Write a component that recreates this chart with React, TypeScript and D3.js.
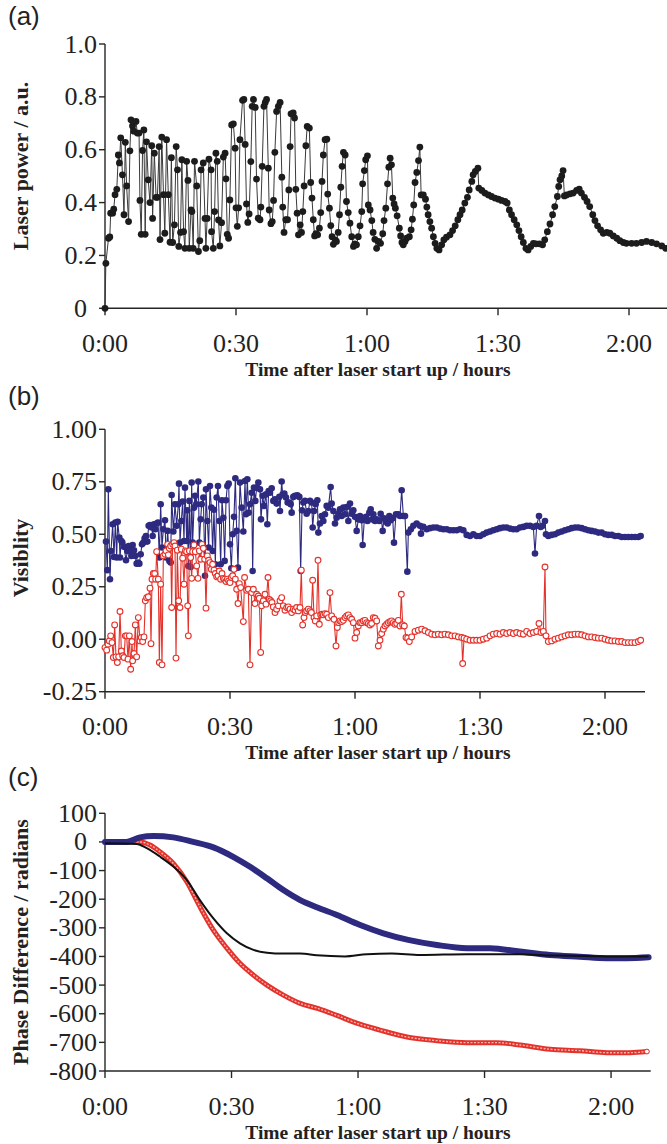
import React from "react";
import * as d3 from "d3";

type Pt = [number, number];

const SERIF = '"Liberation Serif", "Times New Roman", Times, serif';
const SANS = '"Liberation Sans", Arial, Helvetica, sans-serif';

// ---------- ticks ----------
const timeTicks = [0, 30, 60, 90, 120];
const timeTickLabels = ["0:00", "0:30", "1:00", "1:30", "2:00"];
const powerTicks = [0, 0.2, 0.4, 0.6, 0.8, 1.0];
const powerTickLabels = ["0", "0.2", "0.4", "0.6", "0.8", "1.0"];
const visTicks = [-0.25, 0, 0.25, 0.5, 0.75, 1.0];
const visTickLabels = ["-0.25", "0.00", "0.25", "0.50", "0.75", "1.00"];
const phaseTicks = [100, 0, -100, -200, -300, -400, -500, -600, -700, -800];
const phaseTickLabels = ["100", "0", "-100", "-200", "-300", "-400", "-500", "-600", "-700", "-800"];

// ---------- (a) laser power: [minutes, a.u.] ----------
const laserPower: Pt[] = [
  [0, 0], [0.2, 0.17], [0.8, 0.265], [1.1, 0.27], [1.3, 0.36], [1.75, 0.36], [2.0, 0.375], [2.3, 0.43], [2.7, 0.45],
  [3.05, 0.58], [3.3, 0.55], [3.6, 0.645], [4.0, 0.505], [4.35, 0.354], [4.65, 0.628], [4.95, 0.463], [5.4, 0.328],
  [5.7, 0.596], [5.95, 0.713], [6.3, 0.69], [6.6, 0.67], [7.1, 0.707], [7.4, 0.663], [7.8, 0.663], [8.0, 0.408],
  [8.3, 0.28], [8.6, 0.597], [8.9, 0.675], [9.2, 0.28], [9.5, 0.63], [9.9, 0.486], [10.3, 0.4], [10.7, 0.615],
  [10.9, 0.34], [11.3, 0.587], [11.7, 0.42], [12.0, 0.42], [12.4, 0.612], [12.6, 0.26], [13.0, 0.648], [13.4, 0.43],
  [13.7, 0.284], [14.1, 0.638], [14.5, 0.43], [14.9, 0.25], [15.2, 0.57], [15.5, 0.249], [15.9, 0.316], [16.3, 0.612],
  [16.6, 0.524], [16.9, 0.234], [17.3, 0.287], [17.6, 0.562], [18.0, 0.29], [18.3, 0.227], [18.7, 0.556], [19.0, 0.484],
  [19.3, 0.227], [19.7, 0.372], [19.9, 0.366], [20.2, 0.227], [20.5, 0.556], [21.0, 0.463], [21.4, 0.215], [21.7, 0.256],
  [22.0, 0.524], [22.5, 0.55], [22.9, 0.34], [23.1, 0.227], [23.4, 0.34], [23.8, 0.564], [24.3, 0.524], [24.4, 0.29],
  [24.8, 0.227], [25.1, 0.366], [25.4, 0.587], [25.7, 0.556], [26.0, 0.334], [26.3, 0.236], [26.7, 0.324], [27.1, 0.572],
  [27.5, 0.587], [27.7, 0.49], [28.0, 0.28], [28.3, 0.265], [28.6, 0.41], [29.0, 0.694], [29.4, 0.698], [29.8, 0.606],
  [30.0, 0.38], [30.3, 0.31], [30.6, 0.38], [30.9, 0.638], [31.5, 0.787], [31.8, 0.79], [32.1, 0.62], [32.4, 0.395],
  [32.7, 0.325], [33.0, 0.357], [33.4, 0.555], [33.7, 0.764], [34.0, 0.79], [34.4, 0.76], [34.7, 0.489], [35.1, 0.341],
  [35.5, 0.335], [35.7, 0.383], [36.0, 0.537], [36.4, 0.764], [36.7, 0.779], [37.0, 0.79], [37.4, 0.53], [37.6, 0.372],
  [38.0, 0.32], [38.3, 0.328], [38.6, 0.408], [38.9, 0.59], [39.3, 0.745], [39.7, 0.764], [40.1, 0.779], [40.5, 0.496],
  [40.7, 0.383], [41.0, 0.287], [41.4, 0.335], [41.8, 0.335], [42.1, 0.448], [42.4, 0.612], [42.6, 0.736], [43.1, 0.739],
  [43.4, 0.72], [43.7, 0.45], [44.0, 0.36], [44.3, 0.278], [44.7, 0.316], [45.0, 0.287], [45.3, 0.366], [45.6, 0.463],
  [46.0, 0.615], [46.3, 0.688], [46.8, 0.682], [47.1, 0.476], [47.4, 0.417], [47.7, 0.335], [48.0, 0.274], [48.3, 0.282],
  [48.7, 0.278], [49.1, 0.303], [49.4, 0.362], [49.7, 0.48], [50.0, 0.58], [50.4, 0.638], [50.8, 0.64], [51.0, 0.432],
  [51.4, 0.379], [51.7, 0.313], [52.0, 0.271], [52.3, 0.242], [52.7, 0.259], [53.0, 0.253], [53.4, 0.287], [53.7, 0.354],
  [54.0, 0.458], [54.3, 0.537], [54.6, 0.59], [55.0, 0.58], [55.3, 0.404], [55.7, 0.362], [56.1, 0.322], [56.5, 0.271],
  [56.9, 0.234], [57.2, 0.244], [57.6, 0.24], [58.0, 0.271], [58.4, 0.312], [58.8, 0.366], [59.0, 0.471], [59.4, 0.521],
  [59.7, 0.562], [60.1, 0.577], [60.3, 0.391], [60.7, 0.372], [61.1, 0.332], [61.4, 0.287], [61.8, 0.261], [62.2, 0.227],
  [62.6, 0.253], [63.1, 0.246], [63.6, 0.282], [63.9, 0.332], [64.3, 0.379], [64.7, 0.471], [65.0, 0.534], [65.3, 0.568],
  [65.6, 0.543], [65.9, 0.417], [66.2, 0.395], [66.5, 0.379], [66.9, 0.35], [67.4, 0.303], [67.7, 0.274], [68.0, 0.249],
  [68.3, 0.24], [68.7, 0.253], [69.1, 0.265], [69.7, 0.271], [70.1, 0.297], [70.4, 0.337], [70.7, 0.391], [71.0, 0.476],
  [71.4, 0.514], [71.8, 0.559], [72.1, 0.61], [72.4, 0.429], [72.9, 0.429], [73.4, 0.413], [73.7, 0.383], [74.0, 0.354],
  [74.4, 0.328], [74.8, 0.303], [75.2, 0.271], [75.6, 0.246], [76.0, 0.227], [76.5, 0.221], [77.1, 0.24], [77.6, 0.259],
  [78.2, 0.269], [79.0, 0.278], [79.6, 0.294], [80.2, 0.312], [80.8, 0.335], [81.3, 0.354], [81.8, 0.372], [82.4, 0.398],
  [83.0, 0.42], [83.4, 0.448], [84.0, 0.48], [84.3, 0.505], [84.8, 0.518], [85.4, 0.53], [85.6, 0.455], [86.3, 0.446],
  [87.0, 0.436], [87.8, 0.429], [88.5, 0.423], [89.3, 0.417], [90.1, 0.413], [90.8, 0.408], [91.6, 0.404], [92.1, 0.398],
  [92.6, 0.372], [93.1, 0.354], [93.7, 0.335], [94.3, 0.316], [94.8, 0.294], [95.3, 0.271], [95.8, 0.249], [96.4, 0.227],
  [96.9, 0.221], [97.5, 0.234], [98.1, 0.246], [98.7, 0.244], [99.5, 0.244], [100.2, 0.24], [100.7, 0.259], [101.3, 0.29],
  [101.9, 0.319], [102.5, 0.354], [103.0, 0.385], [103.6, 0.423], [103.9, 0.461], [104.2, 0.486], [104.6, 0.501],
  [104.9, 0.521], [105.2, 0.425], [105.7, 0.429], [106.5, 0.433], [107.2, 0.436], [108.0, 0.446], [108.6, 0.451],
  [109.1, 0.436], [109.8, 0.42], [110.4, 0.404], [111.0, 0.385], [111.7, 0.354], [112.2, 0.332], [112.8, 0.312],
  [113.5, 0.297], [114.1, 0.284], [114.9, 0.287], [115.6, 0.284], [116.4, 0.274], [117.2, 0.265], [117.9, 0.256],
  [118.7, 0.249], [119.4, 0.246], [120.6, 0.246], [121.7, 0.246], [122.9, 0.249], [124.0, 0.253], [125.2, 0.249],
  [126.3, 0.244], [127.5, 0.236], [128.4, 0.227],
];

// ---------- (b) visibility ----------
const visibilityBlue: Pt[] = [
  [0.24, 0.465], [0.56, 0.329], [0.8, 0.714], [1.2, 0.286], [1.44, 0.42], [1.84, 0.548], [2.16, 0.392], [2.48, 0.556],
  [2.8, 0.389], [3.04, 0.559], [3.44, 0.484], [3.6, 0.389], [3.92, 0.468], [4.16, 0.46], [4.56, 0.44], [5.04, 0.376],
  [5.36, 0.42], [5.68, 0.444], [6.0, 0.424], [6.32, 0.397], [6.64, 0.449], [6.96, 0.424], [7.28, 0.397], [7.6, 0.36],
  [7.92, 0.365], [8.24, 0.36], [8.56, 0.405], [8.88, 0.452], [9.2, 0.46], [9.52, 0.481], [9.84, 0.492], [10.16, 0.465],
  [10.48, 0.54], [10.8, 0.544], [11.2, 0.532], [11.44, 0.492], [11.76, 0.548], [12.08, 0.524], [12.4, 0.551],
  [12.72, 0.556], [13.04, 0.389], [13.36, 0.643], [13.68, 0.437], [14.0, 0.524], [14.4, 0.567], [14.64, 0.389],
  [15.04, 0.516], [15.44, 0.373], [15.76, 0.365], [16.0, 0.687], [16.4, 0.513], [16.8, 0.643], [17.2, 0.54],
  [17.6, 0.643], [17.76, 0.741], [18.0, 0.46], [18.32, 0.563], [18.64, 0.656], [18.96, 0.468], [19.2, 0.722],
  [19.6, 0.468], [19.76, 0.614], [20.0, 0.349], [20.24, 0.659], [20.56, 0.344], [20.8, 0.746], [21.04, 0.46],
  [21.36, 0.627], [21.6, 0.683], [21.9, 0.643], [22.4, 0.751], [22.64, 0.46], [22.96, 0.571], [23.2, 0.643],
  [23.6, 0.675], [24.0, 0.302], [24.24, 0.714], [24.56, 0.563], [24.88, 0.437], [25.2, 0.73], [25.52, 0.627],
  [25.84, 0.42], [26.16, 0.617], [26.48, 0.357], [26.8, 0.675], [27.12, 0.73], [27.44, 0.563], [27.76, 0.357],
  [28.08, 0.662], [28.4, 0.579], [28.72, 0.373], [29.04, 0.662], [29.36, 0.73], [29.68, 0.741], [30.0, 0.452],
  [30.32, 0.338], [30.64, 0.5], [30.96, 0.583], [31.28, 0.767], [31.6, 0.516], [31.92, 0.341], [32.4, 0.746],
  [32.8, 0.627], [33.2, 0.513], [33.6, 0.754], [33.84, 0.595], [34.16, 0.762], [34.48, 0.603], [34.8, 0.643],
  [35.2, 0.698], [35.44, 0.325], [35.76, 0.722], [36.08, 0.659], [36.4, 0.722], [36.8, 0.746], [37.2, 0.714],
  [37.44, 0.571], [37.84, 0.683], [38.16, 0.635], [38.64, 0.69], [38.96, 0.548], [39.28, 0.706], [39.6, 0.698],
  [40.0, 0.719], [40.4, 0.659], [40.8, 0.667], [41.2, 0.646], [41.84, 0.678], [42.0, 0.611], [42.4, 0.751],
  [42.64, 0.69], [43.04, 0.694], [43.44, 0.675], [43.84, 0.651], [44.24, 0.651], [44.56, 0.643], [44.8, 0.603],
  [45.2, 0.678], [45.6, 0.683], [46.16, 0.686], [46.64, 0.678], [46.96, 0.325], [47.28, 0.614], [47.6, 0.651],
  [48.0, 0.659], [48.4, 0.598], [48.8, 0.611], [49.2, 0.659], [49.6, 0.651], [49.84, 0.532], [50.16, 0.611],
  [50.56, 0.643], [50.96, 0.662], [51.2, 0.508], [51.6, 0.551], [52.0, 0.587], [52.4, 0.563], [52.8, 0.595],
  [53.2, 0.635], [53.6, 0.627], [54.16, 0.725], [54.4, 0.646], [54.8, 0.611], [55.2, 0.551], [55.6, 0.579],
  [56.0, 0.598], [56.4, 0.619], [56.8, 0.587], [57.2, 0.627], [57.6, 0.595], [58.0, 0.63], [58.4, 0.563],
  [58.8, 0.646], [59.2, 0.598], [59.6, 0.614], [60.0, 0.583], [60.4, 0.516], [60.8, 0.571], [61.2, 0.587],
  [61.6, 0.567], [61.84, 0.449], [62.24, 0.571], [62.64, 0.583], [63.0, 0.563], [63.44, 0.603], [63.76, 0.619],
  [64.08, 0.571], [64.4, 0.595], [64.8, 0.563], [65.2, 0.571], [65.84, 0.563], [66.16, 0.598], [66.64, 0.516],
  [66.96, 0.576], [67.44, 0.56], [67.84, 0.551], [68.24, 0.587], [68.56, 0.567], [69.04, 0.576], [69.36, 0.46],
  [69.84, 0.595], [70.4, 0.595], [70.8, 0.587], [71.2, 0.71], [71.6, 0.587], [72.0, 0.587], [72.56, 0.322],
  [72.8, 0.508], [73.4, 0.524], [74.0, 0.54], [74.8, 0.551], [75.6, 0.54], [75.84, 0.503], [76.4, 0.535],
  [77.2, 0.524], [78.0, 0.529], [78.8, 0.532], [79.6, 0.532], [80.4, 0.527], [81.2, 0.524], [82.0, 0.524],
  [82.8, 0.519], [83.6, 0.519], [84.4, 0.519], [85.2, 0.524], [86.0, 0.519], [86.8, 0.497], [87.6, 0.492],
  [88.4, 0.5], [89.2, 0.492], [90.0, 0.492], [90.8, 0.5], [91.6, 0.508], [92.4, 0.513], [93.2, 0.519], [94.0, 0.524],
  [94.8, 0.529], [95.6, 0.532], [96.4, 0.532], [97.2, 0.527], [98.0, 0.524], [98.8, 0.524], [99.6, 0.532],
  [100.4, 0.535], [101.2, 0.54], [102.0, 0.54], [102.8, 0.535], [103.2, 0.408], [103.6, 0.54], [104.16, 0.587],
  [104.56, 0.535], [105.04, 0.54], [105.6, 0.563], [105.84, 0.5], [106.4, 0.492], [107.2, 0.497], [108.0, 0.5],
  [108.8, 0.508], [109.6, 0.513], [110.4, 0.519], [111.2, 0.524], [112.0, 0.529], [112.8, 0.532], [113.6, 0.532],
  [114.4, 0.529], [115.2, 0.524], [116.0, 0.519], [116.8, 0.516], [117.6, 0.513], [118.4, 0.508], [119.2, 0.508],
  [120.0, 0.5], [120.8, 0.497], [121.6, 0.497], [122.4, 0.492], [123.2, 0.492], [124.0, 0.487], [124.8, 0.487],
  [125.6, 0.487], [126.4, 0.487], [127.2, 0.487], [128.0, 0.487], [128.56, 0.492],
];

const visibilityRed: Pt[] = [
  [0.0, -0.04], [0.4, -0.052], [0.72, -0.024], [1.04, -0.008], [1.36, 0.016], [1.68, -0.016], [2.0, -0.087],
  [2.32, 0.068], [2.64, -0.084], [2.96, -0.111], [3.28, -0.084], [3.6, 0.132], [3.92, -0.056], [4.24, -0.079],
  [4.56, -0.087], [4.88, 0.016], [5.2, 0.016], [5.52, -0.095], [5.84, 0.016], [6.16, -0.143], [6.48, -0.011],
  [6.64, -0.103], [6.96, -0.068], [7.28, 0.068], [7.6, -0.084], [8.0, 0.103], [8.4, -0.008], [8.72, 0.008],
  [9.04, -0.011], [9.36, 0.011], [9.68, 0.183], [10.0, 0.198], [10.4, 0.202], [10.8, 0.243], [11.04, -0.021],
  [11.28, 0.286], [11.6, 0.313], [11.92, 0.313], [12.16, 0.286], [12.4, 0.417], [12.8, 0.286], [13.04, -0.111],
  [13.36, 0.262], [13.68, -0.122], [14.0, 0.397], [14.4, 0.405], [14.64, 0.421], [15.04, 0.452], [15.2, 0.402],
  [15.44, 0.433], [15.76, 0.444], [16.0, 0.151], [16.24, 0.452], [16.56, 0.46], [16.8, 0.444], [17.04, -0.09],
  [17.36, 0.424], [17.68, 0.183], [18.0, 0.151], [18.32, 0.429], [18.64, 0.386], [18.96, 0.262], [19.28, 0.421],
  [19.6, 0.417], [19.84, 0.159], [20.0, 0.016], [20.24, 0.421], [20.56, 0.389], [20.8, 0.29], [21.04, 0.417],
  [21.36, 0.449], [21.68, 0.417], [22.0, 0.349], [22.32, 0.29], [22.64, 0.421], [22.96, 0.381], [23.28, 0.452],
  [23.6, 0.433], [23.92, 0.381], [24.24, 0.148], [24.56, 0.397], [24.88, 0.376], [25.2, 0.365], [25.52, 0.333],
  [25.84, 0.357], [26.16, 0.329], [26.48, 0.313], [26.8, 0.297], [27.12, 0.302], [27.44, 0.325], [27.76, 0.286],
  [28.08, 0.313], [28.4, 0.29], [28.72, 0.286], [29.04, 0.275], [29.36, 0.286], [29.68, 0.278], [30.0, 0.27],
  [30.32, 0.294], [30.64, 0.302], [30.96, 0.333], [31.28, 0.286], [31.6, 0.238], [31.92, 0.17], [32.24, 0.265],
  [32.56, 0.246], [33.2, 0.084], [33.5, 0.294], [34.0, 0.233], [34.4, 0.238], [34.8, -0.122], [35.2, 0.222],
  [35.6, 0.238], [36.0, 0.17], [36.4, 0.214], [36.8, 0.206], [37.04, 0.195], [37.36, -0.063], [37.6, 0.159],
  [38.0, 0.183], [38.4, 0.214], [38.64, 0.167], [39.12, 0.294], [39.44, 0.19], [39.76, 0.183], [40.08, 0.175],
  [40.4, 0.154], [40.8, 0.127], [41.2, 0.143], [41.6, 0.159], [42.0, 0.183], [42.4, 0.198], [42.8, 0.159],
  [43.2, 0.138], [43.6, 0.151], [44.0, 0.154], [44.4, 0.143], [44.8, 0.127], [45.2, 0.143], [45.6, 0.138],
  [46.0, 0.151], [46.4, 0.135], [46.8, 0.151], [47.12, 0.329], [47.44, 0.068], [47.76, 0.103], [48.08, 0.127],
  [48.4, 0.135], [48.8, 0.143], [49.2, 0.135], [49.52, 0.127], [49.84, 0.281], [50.16, 0.103], [50.48, 0.087],
  [50.8, 0.111], [51.12, 0.376], [51.44, 0.071], [51.76, 0.116], [52.08, 0.119], [52.4, 0.116], [52.8, 0.122],
  [53.2, 0.119], [53.6, 0.103], [54.0, 0.222], [54.4, 0.111], [54.96, 0.095], [55.44, -0.032], [55.76, 0.056],
  [56.08, 0.079], [56.4, 0.087], [56.8, 0.084], [57.2, 0.09], [57.6, 0.103], [58.0, 0.111], [58.4, 0.116],
  [58.8, 0.103], [59.2, 0.095], [59.6, 0.079], [60.0, 0.005], [60.4, 0.032], [60.8, 0.063], [61.2, 0.079],
  [61.6, 0.079], [62.0, 0.087], [62.4, 0.09], [62.8, 0.079], [63.2, 0.075], [63.6, 0.068], [64.0, 0.075],
  [64.4, 0.103], [64.8, 0.1], [65.2, 0.087], [65.6, -0.032], [66.0, -0.005], [66.4, 0.027], [66.8, 0.048],
  [67.2, 0.063], [67.6, 0.071], [68.0, 0.079], [68.4, 0.084], [68.8, 0.087], [69.2, 0.079], [69.6, 0.071],
  [70.0, 0.075], [70.4, 0.09], [70.8, 0.063], [71.12, 0.214], [71.44, 0.068], [71.84, 0.063], [72.24, 0.008],
  [72.64, 0.005], [73.04, -0.011], [73.6, 0.011], [74.4, 0.037], [75.2, 0.043], [76.0, 0.048], [76.8, 0.04],
  [77.6, 0.032], [78.4, 0.024], [79.2, 0.021], [80.0, 0.024], [80.8, 0.021], [81.6, 0.024], [82.4, 0.021],
  [83.2, 0.016], [84.0, 0.016], [84.8, 0.011], [85.6, 0.008], [85.84, -0.116], [86.16, 0.005], [86.8, 0.0],
  [87.6, -0.005], [88.4, -0.005], [89.2, -0.005], [90.0, -0.005], [90.8, 0.0], [91.6, 0.005], [92.4, 0.016],
  [93.2, 0.024], [94.0, 0.027], [94.8, 0.024], [95.6, 0.032], [96.4, 0.027], [97.2, 0.032], [98.0, 0.027],
  [98.8, 0.032], [99.6, 0.027], [100.4, 0.024], [101.2, 0.037], [102.0, 0.027], [102.8, 0.032], [103.6, 0.037],
  [104.16, 0.075], [104.64, 0.032], [105.2, 0.037], [105.6, 0.344], [105.84, 0.016], [106.4, -0.011],
  [107.2, -0.008], [108.0, 0.0], [108.8, 0.005], [109.6, 0.011], [110.4, 0.016], [111.2, 0.021], [112.0, 0.021],
  [112.8, 0.024], [113.6, 0.024], [114.4, 0.021], [115.2, 0.016], [116.0, 0.011], [116.8, 0.011], [117.6, 0.008],
  [118.4, 0.005], [119.2, 0.005], [120.0, 0.0], [120.8, -0.005], [121.6, -0.008], [122.4, -0.008], [123.2, -0.011],
  [124.0, -0.011], [124.8, -0.016], [125.6, -0.016], [126.4, -0.016], [127.2, -0.016], [128.0, -0.011],
  [128.56, -0.005],
];

// ---------- (c) phase difference ----------
const phaseBlue: Pt[] = [
  [0, 0], [5.1, 0], [8.3, 16], [11.5, 21], [16.2, 16], [20.9, 0], [25.7, -19], [30.4, -52], [34.4, -87],
  [38.4, -127], [42.3, -168], [46.3, -203], [50.2, -228], [55.0, -255], [60.5, -290], [66.0, -319], [71.9, -342],
  [78.7, -360], [85.8, -371], [91.3, -371], [98.4, -383], [105.5, -395], [112.6, -401], [119.0, -406],
  [123.7, -406], [128.9, -403],
];
const phaseBlack: Pt[] = [
  [0, -5], [7.5, -7], [9.9, -22], [13.0, -51], [16.2, -86], [19.4, -133], [22.5, -203], [25.7, -267], [28.9, -319],
  [32.0, -354], [35.2, -377], [38.4, -387], [42.3, -390], [46.3, -390], [50.2, -396], [56.9, -400], [62.1, -392],
  [68.0, -390], [74.7, -395], [85.8, -392], [98.4, -392], [106.3, -397], [114.0, -398], [122.2, -400], [128.9, -400],
];
const phaseRed: Pt[] = [
  [0, 0], [8.3, 0], [10.7, -11], [13.0, -34], [16.2, -75], [19.4, -139], [22.5, -226], [25.7, -308], [28.9, -371],
  [32.0, -424], [35.2, -465], [38.4, -500], [42.3, -535], [46.3, -564], [50.6, -582], [55.0, -606], [59.7, -633],
  [65.2, -657], [71.9, -682], [78.7, -694], [85.8, -701], [92.9, -701], [98.4, -709], [105.5, -724], [112.6, -729],
  [119.0, -736], [124.5, -736], [128.5, -732],
];

const AXIS = "#262626";
const BLUE = "#2d2a80";
const RED = "#e4322b";

type FrameProps = {
  xs: d3.ScaleLinear<number, number>;
  ys: d3.ScaleLinear<number, number>;
  yTicks: number[];
  yLabels: string[];
  yTitle: string;
  yTitleY: number;
  tag: string;
  tagY: number;
};

function Frame({ xs, ys, yTicks, yLabels, yTitle, yTitleY, tag, tagY }: FrameProps) {
  const [x0, x1] = xs.range();
  const [yb, yt] = ys.range();
  return (
    <g>
      <text x={8} y={tagY} fontFamily={SANS} fontSize={26} fill="#222">{tag}</text>
      <line x1={x0} x2={x0} y1={yt} y2={yb} stroke={AXIS} strokeWidth={1.4} />
      <line x1={x0} x2={x1} y1={yb} y2={yb} stroke={AXIS} strokeWidth={1.4} />
      {yTicks.map((t, i) => (
        <g key={"y" + i}>
          <line x1={x0 - 6} x2={x0} y1={ys(t)} y2={ys(t)} stroke={AXIS} strokeWidth={1.4} />
          <text
            x={yLabels[i] === "0" ? x0 - 18 : x0 - 8}
            y={ys(t)}
            textAnchor="end"
            dominantBaseline="central"
            fontFamily={SERIF}
            fontSize={26}
            fill="#222"
          >
            {yLabels[i]}
          </text>
        </g>
      ))}
      {timeTicks.map((t, i) => (
        <g key={"x" + i}>
          <line x1={xs(t)} x2={xs(t)} y1={yb} y2={yb + 7} stroke={AXIS} strokeWidth={1.4} />
          <text
            x={xs(t)}
            y={yb + 35}
            textAnchor="middle"
            dominantBaseline="central"
            fontFamily={SERIF}
            fontSize={26}
            fill="#222"
          >
            {timeTickLabels[i]}
          </text>
        </g>
      ))}
      <text
        x={378}
        y={yb + 61}
        textAnchor="middle"
        dominantBaseline="central"
        fontFamily={SERIF}
        fontWeight="bold"
        fontSize={19.5}
        fill="#222"
      >
        Time after laser start up / hours
      </text>
      <text
        transform={`translate(20,${yTitleY}) rotate(-90)`}
        textAnchor="middle"
        dominantBaseline="central"
        fontFamily={SERIF}
        fontWeight="bold"
        fontSize={22}
        fill="#222"
      >
        {yTitle}
      </text>
    </g>
  );
}

export default function App() {
  // panel (a)
  const xa = d3.scaleLinear().domain([0, 128.7]).range([105, 667]);
  const ya = d3.scaleLinear().domain([0, 1]).range([308.3, 44]);
  const lineA = d3.line<Pt>().x((d) => xa(d[0])).y((d) => ya(d[1]));

  // panel (b)
  const xb = d3.scaleLinear().domain([0, 129.6]).range([105, 645]);
  const yb = d3.scaleLinear().domain([-0.25, 1]).range([691.7, 429.3]);
  const lineB = d3.line<Pt>().x((d) => xb(d[0])).y((d) => yb(d[1]));

  // panel (c)
  const xc = d3.scaleLinear().domain([0, 129.4]).range([105, 650.7]);
  const yc = d3.scaleLinear().domain([-800, 100]).range([1071, 813.3]);
  const lineC = d3
    .line<Pt>()
    .x((d) => xc(d[0]))
    .y((d) => yc(d[1]))
    .curve(d3.curveMonotoneX);

  const lastRed = phaseRed[phaseRed.length - 1];

  return (
    <svg
      width={667}
      height={1144}
      style={{ position: "absolute", left: 0, top: 0, background: "#fff" }}
    >
      <rect x={0} y={0} width={667} height={1144} fill="#fff" />

      {/* (a) */}
      <Frame
        xs={xa}
        ys={ya}
        yTicks={powerTicks}
        yLabels={powerTickLabels}
        yTitle="Laser power / a.u."
        yTitleY={166}
        tag="(a)"
        tagY={24.5}
      />
      <path d={lineA(laserPower) || ""} fill="none" stroke="#3a3a3a" strokeWidth={1} />
      {laserPower.map((d, i) => (
        <circle key={"a" + i} cx={xa(d[0])} cy={ya(d[1])} r={3.4} fill="#1c1c1c" />
      ))}

      {/* (b) */}
      <Frame
        xs={xb}
        ys={yb}
        yTicks={visTicks}
        yLabels={visTickLabels}
        yTitle="Visiblity"
        yTitleY={558}
        tag="(b)"
        tagY={404.5}
      />
      <path d={lineB(visibilityBlue) || ""} fill="none" stroke={BLUE} strokeWidth={1.1} />
      {visibilityBlue.map((d, i) => (
        <circle key={"bb" + i} cx={xb(d[0])} cy={yb(d[1])} r={3.3} fill={BLUE} />
      ))}
      <path d={lineB(visibilityRed) || ""} fill="none" stroke={RED} strokeWidth={1.1} />
      {visibilityRed.map((d, i) => (
        <circle
          key={"br" + i}
          cx={xb(d[0])}
          cy={yb(d[1])}
          r={2.9}
          fill="#fff"
          stroke={RED}
          strokeWidth={1.1}
        />
      ))}

      {/* (c) */}
      <Frame
        xs={xc}
        ys={yc}
        yTicks={phaseTicks}
        yLabels={phaseTickLabels}
        yTitle="Phase Difference / radians"
        yTitleY={942}
        tag="(c)"
        tagY={786}
      />
      <path
        d={lineC(phaseRed) || ""}
        fill="none"
        stroke={RED}
        strokeWidth={5}
        strokeLinecap="round"
      />
      <path
        d={lineC(phaseRed) || ""}
        fill="none"
        stroke="#f4b4ae"
        strokeWidth={1.4}
        strokeDasharray="2 1.5"
      />
      <circle cx={xc(lastRed[0])} cy={yc(lastRed[1])} r={2.4} fill="#fff" stroke={RED} strokeWidth={1} />
      <path
        d={lineC(phaseBlue) || ""}
        fill="none"
        stroke={BLUE}
        strokeWidth={6}
        strokeLinecap="round"
      />
      <path d={lineC(phaseBlack) || ""} fill="none" stroke="#111" strokeWidth={2} />
    </svg>
  );
}
